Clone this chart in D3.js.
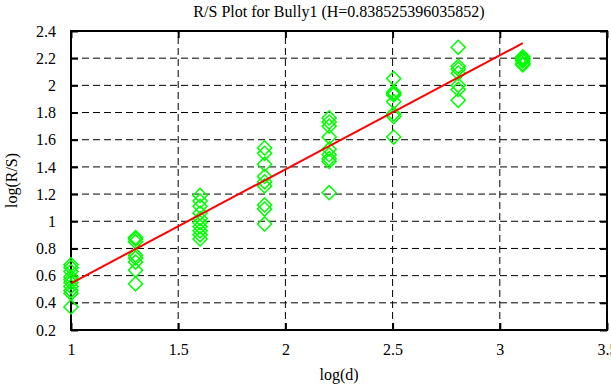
<!DOCTYPE html>
<html lang="en">
<head>
    <meta charset="UTF-8">
    <title>R/S Plot for Bully1</title>
    <script src="https://d3js.org/d3.v7.min.js"></script>
    <style>
        body {
            margin: 0;
            background: white;
        }
        svg text {
            font-family: "Liberation Serif", "Times New Roman", serif;
            fill: black;
        }
        .grid line {
            stroke: black;
            stroke-width: 1;
            stroke-dasharray: 7 4;
        }
    </style>
</head>
<body>
<div id="chart"></div>
<script>
    // log10 of the window sizes
    const logD = [1, 1.30103, 1.60206, 1.90309, 2.20412, 2.50515, 2.80618, 3.10721];

    // log(R/S) values at each window size
    const rs10 = [0.68, 0.66, 0.63, 0.59, 0.57, 0.55, 0.52, 0.49, 0.47, 0.37];
    const rs20 = [0.88, 0.87, 0.85, 0.75, 0.73, 0.70, 0.64, 0.54];
    const rs40 = [1.19, 1.15, 1.11, 1.06, 1.02, 0.99, 0.96, 0.93, 0.90, 0.87];
    const rs80 = [1.54, 1.50, 1.42, 1.33, 1.29, 1.26, 1.12, 1.09, 0.98];
    const rs160 = [1.76, 1.73, 1.70, 1.62, 1.53, 1.49, 1.46, 1.44, 1.21];
    const rs320 = [2.05, 1.95, 1.94, 1.93, 1.88, 1.79, 1.77, 1.62];
    const rs640 = [2.28, 2.14, 2.12, 2.09, 2.00, 1.97, 1.89];
    const rs1280 = [2.21, 2.20, 2.19, 2.18, 2.16, 2.15];
    const rsGroups = [rs10, rs20, rs40, rs80, rs160, rs320, rs640, rs1280];

    // fitted line
    const H = 0.838525396035852;
    const intercept = -0.295;

    const xTicks = [1, 1.5, 2, 2.5, 3, 3.5];
    const yTicks = [0.2, 0.4, 0.6, 0.8, 1, 1.2, 1.4, 1.6, 1.8, 2, 2.2, 2.4];

    const W = 611, Hgt = 385;
    const margin = { top: 31, right: 4, bottom: 55, left: 71 };

    const svg = d3.select("#chart").append("svg")
        .attr("width", W)
        .attr("height", Hgt);

    const x = d3.scaleLinear().domain([1, 3.5]).range([margin.left, W - margin.right]);
    const y = d3.scaleLinear().domain([0.2, 2.4]).range([Hgt - margin.bottom, margin.top]);

    // grid lines
    const grid = svg.append("g").attr("class", "grid");
    grid.selectAll("line.gx")
        .data(xTicks.slice(1, -1))
        .enter().append("line")
        .attr("x1", d => x(d)).attr("x2", d => x(d))
        .attr("y1", y(0.2)).attr("y2", y(2.4));
    grid.selectAll("line.gy")
        .data(yTicks.slice(1, -1))
        .enter().append("line")
        .attr("class", "gy")
        .attr("x1", x(1)).attr("x2", x(3.5))
        .attr("y1", d => y(d)).attr("y2", d => y(d));

    // axes with inward ticks on all four sides
    const tickLen = 7;
    const axes = [
        svg.append("g").attr("transform", `translate(0,${y(0.2)})`)
            .call(d3.axisBottom(x).tickValues(xTicks).tickSize(-tickLen).tickPadding(14).tickFormat(d3.format("~g"))),
        svg.append("g").attr("transform", `translate(0,${y(2.4)})`)
            .call(d3.axisTop(x).tickValues(xTicks).tickSize(-tickLen).tickFormat("")),
        svg.append("g").attr("transform", `translate(${x(1)},0)`)
            .call(d3.axisLeft(y).tickValues(yTicks).tickSize(-tickLen).tickPadding(15).tickFormat(d3.format("~g"))),
        svg.append("g").attr("transform", `translate(${x(3.5)},0)`)
            .call(d3.axisRight(y).tickValues(yTicks).tickSize(-tickLen).tickFormat(""))
    ];
    axes.forEach(g => {
        g.attr("font-family", null).attr("font-size", null);
        g.select(".domain").remove();
        g.selectAll(".tick line").attr("stroke", "black").attr("stroke-width", 2);
        g.selectAll(".tick text")
            .style("font-size", "16px")
            .attr("fill", "black");
    });

    // border
    svg.append("rect")
        .attr("x", x(1)).attr("y", y(2.4))
        .attr("width", x(3.5) - x(1))
        .attr("height", y(0.2) - y(2.4))
        .attr("fill", "none")
        .attr("stroke", "black")
        .attr("stroke-width", 2);

    // points
    const points = [];
    rsGroups.forEach((vals, i) => vals.forEach(v => points.push({ d: logD[i], v: v })));

    const diamond = d3.symbol().type(d3.symbolSquare).size(100);
    svg.append("g").selectAll("path")
        .data(points)
        .enter().append("path")
        .attr("d", diamond)
        .attr("transform", d => `translate(${x(d.d)},${y(d.v)}) rotate(45)`)
        .attr("fill", "none")
        .attr("stroke", "#00ff00")
        .attr("stroke-width", 1.5);

    // fitted line
    const fitX = [logD[0], logD[logD.length - 1]];
    svg.append("path")
        .datum(fitX)
        .attr("d", d3.line().x(d => x(d)).y(d => y(intercept + H * d)))
        .attr("stroke", "red")
        .attr("stroke-width", 2)
        .attr("fill", "none");

    // title and axis labels
    svg.append("text")
        .attr("x", (x(1) + x(3.5)) / 2)
        .attr("y", 17)
        .attr("text-anchor", "middle")
        .style("font-size", "16px")
        .text("R/S Plot for Bully1 (H=" + H + ")");

    svg.append("text")
        .attr("x", (x(1) + x(3.5)) / 2)
        .attr("y", 380)
        .attr("text-anchor", "middle")
        .style("font-size", "16px")
        .text("log(d)");

    svg.append("text")
        .attr("transform", `translate(17,${(y(0.2) + y(2.4)) / 2}) rotate(-90)`)
        .attr("text-anchor", "middle")
        .style("font-size", "16px")
        .text("log(R/S)");
</script>
</body>
</html>
